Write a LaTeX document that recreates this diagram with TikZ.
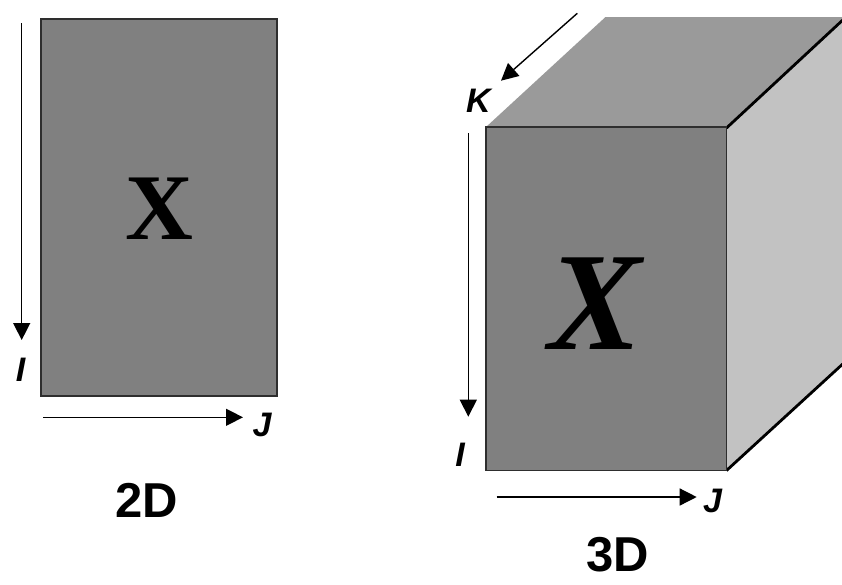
\documentclass[tikz,border=0pt]{standalone}
\usepackage{fontspec}
\setmainfont{Liberation Serif}
\newfontfamily\arialf{Liberation Sans}
\usetikzlibrary{arrows.meta}
\definecolor{frontgray}{HTML}{808080}
\definecolor{topgray}{HTML}{9A9A9A}
\definecolor{sidegray}{HTML}{C2C2C2}
\definecolor{edgegray}{HTML}{2E2E2E}
\begin{document}
\begin{tikzpicture}[x=1pt,y=-1pt,
  axisarrow/.style={line width=1.4pt,-{Triangle[length=17pt,width=17pt]}},
  axislabel/.style={inner sep=0pt,font=\arialf\bfseries\itshape\fontsize{34}{34}\selectfont},
  dimlabel/.style={inner sep=0pt,font=\arialf\bfseries\fontsize{49}{49}\selectfont},
  bigx/.style={inner sep=0pt,font=\bfseries\fontsize{94}{94}\selectfont},
  bigxi/.style={inner sep=0pt,font=\bfseries\itshape\fontsize{140}{140}\selectfont},
  facefront/.style={fill=frontgray,draw=edgegray,line width=1.1pt},
  facetop/.style={fill=topgray,draw=none},
  faceside/.style={fill=sidegray,draw=none},
  heavyedge/.style={draw=black,line width=2.8pt}]
\useasboundingbox (0,0) rectangle (842,584);
\clip (0,0) rectangle (842,584);
\fill[white] (0,0) rectangle (842,584);

% ---------- 2D ----------
\draw[facefront] (41,19) rectangle (277,396);
\node[bigx] (x2) at (159.5,209) {X};
\coordinate (i2s) at (21.7,23);
\coordinate (i2e) at (21.7,340);
\draw[axisarrow] (i2s) -- (i2e);
\node[axislabel] (li2) at (20.5,369.5) {I};
\coordinate (j2s) at (43,417.3);
\coordinate (j2e) at (243,417.3);
\draw[axisarrow] (j2s) -- (j2e);
\node[axislabel] (lj2) at (262,425) {J};
\node[dimlabel] (d2) at (147,500.5) {2D};

% ---------- 3D ----------
\coordinate (ftl) at (486,127);
\coordinate (ftr) at (726.5,128);
\coordinate (fbr) at (726.5,470.5);
\coordinate (fbl) at (486,470.5);
\coordinate (btl) at (605.5,17);
\coordinate (btr) at (846,17);
\coordinate (bbr) at (846,361);
\fill[faceside] (ftr) -- (btr) -- (bbr) -- (fbr) -- cycle;
\fill[facetop] (ftl) -- (btl) -- (btr) -- (ftr) -- cycle;
\draw[heavyedge] (ftr) -- (btr);
\draw[heavyedge] (fbr) -- (bbr);
\draw[facefront] (ftl) rectangle (fbr);
\node[bigxi] (x3) at (595,304) {X};

\coordinate (ks) at (577.3,13.3);
\coordinate (ke) at (501,80.7);
\draw[axisarrow] (ks) -- (ke);
\node[axislabel] (lk) at (478.5,100.5) {K};
\coordinate (i3s) at (468.3,133);
\coordinate (i3e) at (468.3,416.7);
\draw[axisarrow] (i3s) -- (i3e);
\node[axislabel] (li3) at (460,454.7) {I};
\coordinate (j3s) at (496.7,497);
\coordinate (j3e) at (696.7,497);
\draw[axisarrow] (j3s) -- (j3e);
\node[axislabel] (lj3) at (712.5,500.6) {J};
\node[dimlabel] (d3) at (617.5,555) {3D};
\end{tikzpicture}
\end{document}
